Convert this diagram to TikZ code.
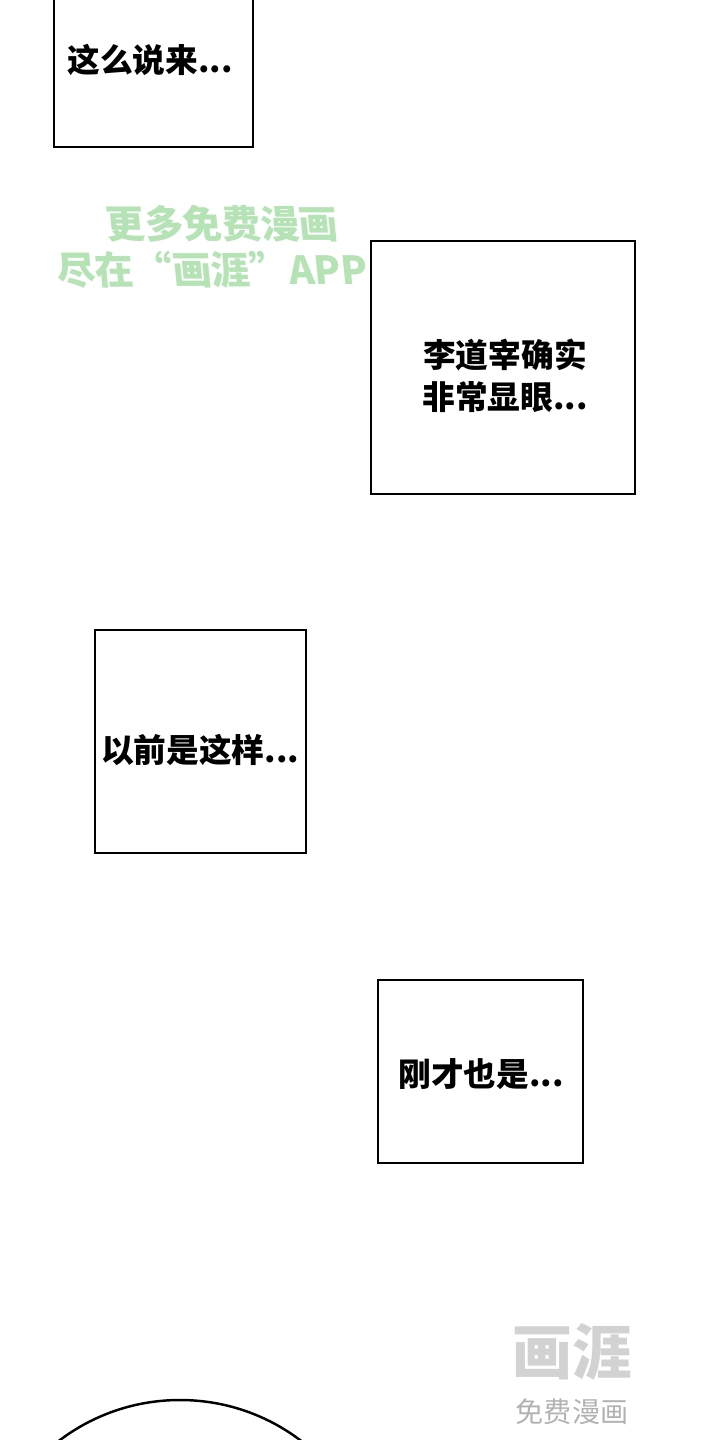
\documentclass[tikz,border=0pt]{standalone}
\usepackage{fontspec}
\newfontfamily\cjk{Noto Sans CJK SC}
\usetikzlibrary{positioning}
\begin{document}
\begin{tikzpicture}[x=0.01cm,y=-0.01cm,
    panel/.style = {draw, line width=0.7pt},
    speech/.style = {font=\cjk\bfseries\fontsize{9.3}{12}\selectfont, align=center},
    wmark/.style = {font=\cjk\bfseries\fontsize{11}{13}\selectfont, text=green!45!gray!40, xslant=-0.1}
  ]
  \useasboundingbox (0,0) rectangle (720,1440);
  \clip (0,0) rectangle (720,1440);

  % panels
  \draw[panel] (54,-10) rectangle (253,147);
  \draw[panel] (371,241) rectangle (635,494);
  \draw[panel] (95,630) rectangle (306,853);
  \draw[panel] (378,980) rectangle (583,1163);
  \draw[panel] (180,1600) circle (200);

  % speech
  \node[speech] (t1) at (150,60) {这么说来...};
  \node[speech] (t2) at (505,376) {李道宰确实\\非常显眼...};
  \node[speech] (t3) at (200,750) {以前是这样...};
  \node[speech] (t4) at (481,1074) {刚才也是...};

  % watermarks
  \node[wmark] (w1) at (222,224) {更多免费漫画};
  \node[wmark] (w2) at (212,270) {尽在“画涯”APP};
  \node[font=\cjk\bfseries\fontsize{17}{20}\selectfont, text=gray!35] (w3) at (572,1352) {画涯};
  \node[font=\cjk\fontsize{8}{10}\selectfont, text=gray!60, below=-2pt of w3] (w4) {免费漫画};
\end{tikzpicture}
\end{document}
